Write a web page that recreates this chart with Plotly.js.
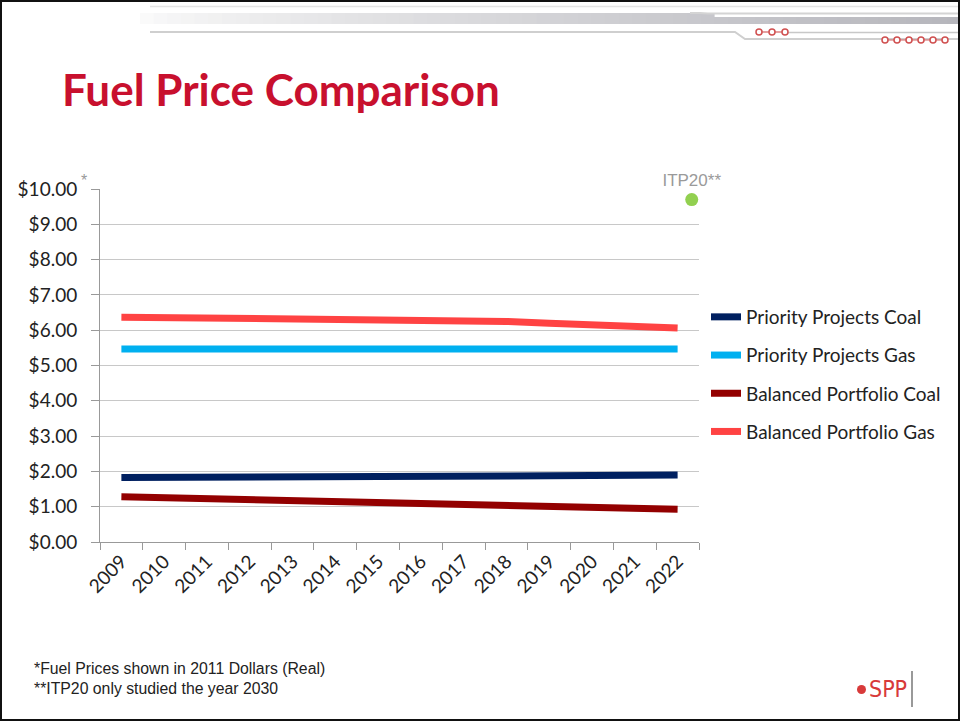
<!DOCTYPE html>
<html>
<head>
<meta charset="utf-8">
<script src="https://cdn.plot.ly/plotly-3.0.1.min.js"></script>
<style>
html,body{margin:0;padding:0;background:#fff;}
#wrap{position:relative;width:960px;height:721px;}
#chart{width:960px;height:721px;}
#frame{position:absolute;left:0;top:0;width:960px;height:721px;box-sizing:border-box;border:2px solid #111;pointer-events:none;}
</style>
</head>
<body>
<div id="wrap"><div id="chart"></div><div id="frame"></div></div>
<script>
// ---- data ----
const years = ['2009','2010','2011','2012','2013','2014','2015','2016','2017','2018','2019','2020','2021','2022'];
const priorityCoal = [1.83,1.83,1.84,1.84,1.85,1.85,1.86,1.86,1.87,1.87,1.88,1.89,1.89,1.90];
const priorityGas = [5.47,5.47,5.47,5.47,5.47,5.47,5.47,5.47,5.47,5.47,5.47,5.47,5.47,5.47];
const balancedCoal = [1.28,1.25,1.22,1.20,1.17,1.14,1.11,1.09,1.06,1.03,1.01,0.98,0.96,0.93];
const balancedGas = [6.37,6.36,6.35,6.34,6.33,6.32,6.31,6.30,6.29,6.25,6.20,6.16,6.11,6.06];
const itp20Label = ['ITP20**'];
const itp20Value = [9.7];
const itp20Pos = [13.33];
const seriesNames = ['Priority Projects Coal','Priority Projects Gas','Balanced Portfolio Coal','Balanced Portfolio Gas'];

// ---- geometry helpers (plot area in pixels) ----
const L = 100, R = 699, T = 189, B = 542;
const px = x => (x - L) / (R - L);
const py = y => (B - y) / (B - T);

const font = 'Lato, "Open Sans", "Liberation Sans", sans-serif';
const colors = ['#002060','#00B0F0','#930000','#FF4343'];
const series = [priorityCoal, priorityGas, balancedCoal, balancedGas];

const traces = series.map((s, i) => ({
  type: 'scatter', mode: 'lines', x: years, y: s, name: seriesNames[i],
  line: {color: colors[i], width: 7}, legendgroup: 'g' + i, hoverinfo: 'skip'
}));
traces.push({
  type: 'scatter', mode: 'markers+text', x: itp20Pos, y: itp20Value, xaxis: 'x2',
  text: itp20Label, textposition: 'top center', cliponaxis: false,
  textfont: {family: '"Liberation Sans", Arial, sans-serif', size: 17, color: '#9A9A9A'},
  marker: {color: '#92D050', size: 13}, showlegend: false, hoverinfo: 'skip'
});

// ---- decorative slide header ----
const shapes = [];
const mix = (a, b, t) => Math.round(a + (b - a) * t);
const gradSteps = 60;
const gx0 = 140, gx1 = 960;
for (let k = 0; k < gradSteps; k++) {
  const x0 = gx0 + k * (gx1 - gx0) / gradSteps;
  const x1 = x0 + (gx1 - gx0) / gradSteps + 0.6;
  const t = Math.min(1, Math.pow(k / (gradSteps - 1), 0.8));
  const c = `rgb(${mix(250,182,t)},${mix(250,182,t)},${mix(250,188,t)})`;
  const top = x0 >= 705 ? 17 : 13;
  shapes.push({type:'rect', xref:'paper', yref:'paper', x0: px(x0), x1: px(x1), y0: py(24), y1: py(top), fillcolor: c, line:{width:0}});
}
shapes.push({type:'line', xref:'paper', yref:'paper', x0: px(150), x1: px(960), y0: py(6.5), y1: py(6.5), line:{color:'#e4e4e4', width:1.5}});
shapes.push({type:'path', xref:'paper', yref:'paper', path: `M ${px(690)},${py(13)} L ${px(700)},${py(13)} L ${px(708)},${py(13.5)} L ${px(960)},${py(13.5)}`, line:{color:'#d4d4d4', width:2}});
shapes.push({type:'path', xref:'paper', yref:'paper', path: `M ${px(150)},${py(32)} L ${px(735)},${py(32)} L ${px(745)},${py(39)} L ${px(960)},${py(39)}`, line:{color:'#cfcfcf', width:2}});
shapes.push({type:'line', xref:'paper', yref:'paper', x0: px(787), x1: px(960), y0: py(32.5), y1: py(32.5), line:{color:'#c8c8c8', width:1.5}});
const ringA = [759, 772, 785], ringB = [885, 897, 909, 921, 933, 945];
[[ringA, 32], [ringB, 40]].forEach(([xs, yc]) => {
  shapes.push({type:'line', xref:'paper', yref:'paper', x0: px(xs[0]), x1: px(xs[xs.length-1]), y0: py(yc), y1: py(yc), line:{color:'#d46060', width:1.2}});
  xs.forEach(xc => shapes.push({type:'circle', xref:'paper', yref:'paper', x0: px(xc-3), x1: px(xc+3), y0: py(yc+3), y1: py(yc-3), fillcolor:'#fff', line:{color:'#d05050', width:1.5}}));
});
// logo
shapes.push({type:'line', xref:'paper', yref:'paper', x0: px(912), x1: px(912), y0: py(671), y1: py(707), line:{color:'#777', width:1.5}});
shapes.push({type:'circle', xref:'paper', yref:'paper', x0: px(857), x1: px(866), y0: py(694), y1: py(685), fillcolor:'#D83A3A', line:{width:0}});

const annotations = [
  {text:'*', xref:'paper', yref:'paper', x: px(84), y: py(180), xanchor:'center', yanchor:'middle', showarrow:false, font:{family:'"Liberation Sans", Arial, sans-serif', size:16, color:'#999'}},
  {text:'*Fuel Prices shown in 2011 Dollars (Real)', xref:'paper', yref:'paper', x: px(32), y: py(668), xanchor:'left', yanchor:'middle', showarrow:false, font:{family:'"Liberation Sans", Arial, sans-serif', size:15.8, color:'#222'}},
  {text:'**ITP20 only studied the year 2030', xref:'paper', yref:'paper', x: px(32), y: py(688), xanchor:'left', yanchor:'middle', showarrow:false, font:{family:'"Liberation Sans", Arial, sans-serif', size:15.8, color:'#222'}},
  {text:'SPP', xref:'paper', yref:'paper', x: px(867), y: py(689), xanchor:'left', yanchor:'middle', showarrow:false, font:{family:'"Liberation Sans Narrow", "DejaVu Sans Condensed", sans-serif', size:23, color:'#D83A3A'}}
];

const layout = {
  width: 960, height: 721,
  margin: {l: L, r: 960 - R, t: T, b: 721 - B, pad: 0},
  paper_bgcolor: '#fff', plot_bgcolor: '#fff',
  title: {text: 'Fuel Price Comparison', xref: 'container', yref: 'container', x: 62/960, xanchor: 'left', y: 1 - 91/721, yanchor: 'middle',
          font: {family: font, size: 44, color: '#C8102E', weight: 'bold'}},
  xaxis: {type: 'category', tickson: 'boundaries', ticks: 'outside', ticklen: 7, tickcolor: '#999', showline: true, linecolor: '#999', linewidth: 1,
          showgrid: false, tickangle: -45, tickfont: {family: font, size: 19, color: '#222'}, range: [-0.5, 13.5], fixedrange: true},
  xaxis2: {overlaying: 'x', range: [-0.5, 13.5], visible: false, fixedrange: true},
  yaxis: {range: [0, 10], dtick: 1, tick0: 0, tickprefix: '$', tickformat: '.2f', ticks: 'outside', ticklen: 8, tickcolor: '#999',
          ticklabelstandoff: 10,
          showline: true, linecolor: '#999', linewidth: 1, showgrid: true, gridcolor: '#C8C8C8', gridwidth: 1, zeroline: false,
          tickfont: {family: font, size: 19, color: '#222'}, fixedrange: true},
  showlegend: true,
  legend: {x: px(706), y: py(298), xanchor: 'left', yanchor: 'top', traceorder: 'grouped', tracegroupgap: 10.5, itemwidth: 30,
           font: {family: font, size: 19, color: '#222'}, bgcolor: 'rgba(0,0,0,0)'},
  shapes: shapes,
  annotations: annotations
};

Plotly.newPlot('chart', traces, layout, {displayModeBar: false, staticPlot: true});
</script>
</body>
</html>
